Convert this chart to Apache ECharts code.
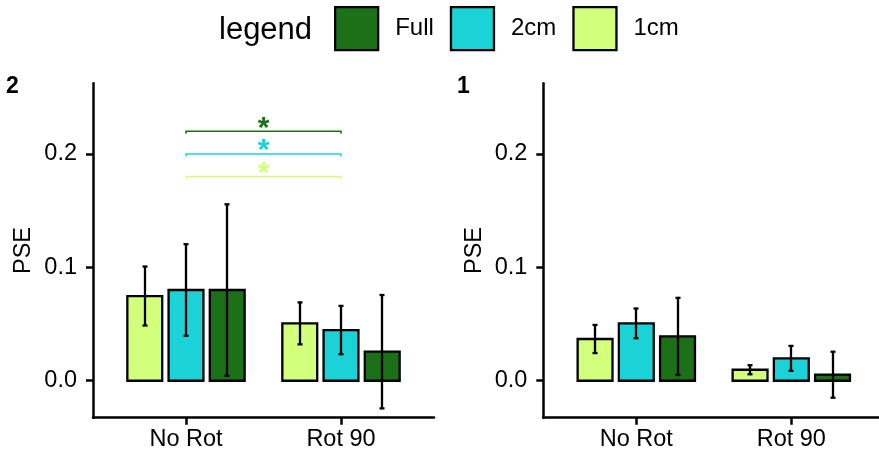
<!DOCTYPE html>
<html>
<head>
<meta charset="utf-8">
<script src="https://cdn.jsdelivr.net/npm/echarts@6/dist/echarts.min.js"></script>
<style>
  html, body { margin: 0; padding: 0; background: #fff; }
  #chart { width: 879px; height: 455px; }
</style>
</head>
<body>
<div id="chart"></div>
<script>
// Conditions on the x axis
const categories = ['No Rot', 'Rot 90'];
// Y axis ticks
const yTicks = [0, 0.1, 0.2];

// Panel "2": mean PSE and error per condition
const p2Mean1cm  = [0.0747, 0.0506];
const p2Err1cm   = [0.0260, 0.0185];
const p2Mean2cm  = [0.0800, 0.0447];
const p2Err2cm   = [0.0404, 0.0213];
const p2MeanFull = [0.0800, 0.0256];
const p2ErrFull  = [0.0756, 0.0500];

// Panel "1": mean PSE and error per condition
const p1Mean1cm  = [0.0368, 0.0097];
const p1Err1cm   = [0.0124, 0.0040];
const p1Mean2cm  = [0.0506, 0.0197];
const p1Err2cm   = [0.0131, 0.0110];
const p1MeanFull = [0.0391, 0.0053];
const p1ErrFull  = [0.0340, 0.0203];

// Significance brackets (No Rot vs Rot 90) in panel "2"
const sigGroups = ['1cm', '2cm', 'Full'];
const sigLevels = [0.18, 0.20, 0.22];
const sigLabels = ['*', '*', '*'];

const FONT = 'Liberation Sans, Arial, Helvetica, sans-serif';
const COLORS = { '1cm': '#D2FF7C', '2cm': '#1BD3D6', 'Full': '#1B7018' };
const OFFSETS = { '1cm': -0.266, '2cm': 0, 'Full': 0.266 };
const BAR_W = 0.225;
const CAP = 2.5;
const LW = 2.3;

const chart = echarts.init(document.getElementById('chart'));

function rows(means, errs) {
  return means.map((m, i) => [i + 1, m, errs[i]]);
}

// One bar with its error bar, dodged by group
function barItem(group) {
  const off = OFFSETS[group];
  const color = COLORS[group];
  return function (params, api) {
    const x = api.value(0) + off;
    const m = api.value(1);
    const e = api.value(2);
    const base = api.coord([x, 0]);
    const top = api.coord([x, m]);
    const hi = api.coord([x, m + e]);
    const lo = api.coord([x, m - e]);
    const w = api.size([BAR_W, 0])[0];
    const cx = Math.round(base[0]);
    const ink = { stroke: '#000', lineWidth: LW };
    return {
      type: 'group',
      children: [
        {
          type: 'rect',
          shape: { x: base[0] - w / 2, y: top[1], width: w, height: base[1] - top[1] },
          style: { fill: color, stroke: '#000', lineWidth: LW }
        },
        { type: 'line', shape: { x1: cx, y1: hi[1], x2: cx, y2: lo[1] }, style: ink },
        { type: 'line', shape: { x1: cx - CAP, y1: hi[1], x2: cx + CAP, y2: hi[1] }, style: ink },
        { type: 'line', shape: { x1: cx - CAP, y1: lo[1], x2: cx + CAP, y2: lo[1] }, style: ink }
      ]
    };
  };
}

function barSeries(group, idx, means, errs) {
  return {
    name: group,
    type: 'custom',
    xAxisIndex: idx,
    yAxisIndex: idx,
    renderItem: barItem(group),
    encode: { x: 0, y: 1 },
    itemStyle: { color: COLORS[group] },
    data: rows(means, errs),
    silent: true
  };
}

function xAxis(idx) {
  return {
    type: 'value',
    gridIndex: idx,
    min: 0.4,
    max: 2.6,
    axisLine: { show: true, onZero: false, lineStyle: { color: '#000', width: 2.5 } },
    axisTick: { show: true, customValues: [1, 2], length: 7, lineStyle: { color: '#000', width: 2.5 } },
    axisLabel: {
      customValues: [1, 2],
      formatter: v => categories[Math.round(v) - 1],
      color: '#000', fontSize: 23.5, fontFamily: FONT, margin: 10
    },
    splitLine: { show: false }
  };
}

function yAxis(idx) {
  return {
    type: 'value',
    gridIndex: idx,
    min: -0.0326,
    max: 0.2623,
    name: 'PSE',
    nameLocation: 'middle',
    nameGap: 57,
    nameRotate: 90,
    nameTextStyle: { color: '#000', fontSize: 23.5, fontFamily: FONT },
    axisLine: { show: true, onZero: false, lineStyle: { color: '#000', width: 2.5 } },
    axisTick: { show: true, customValues: yTicks, length: 7, lineStyle: { color: '#000', width: 2.5 } },
    axisLabel: {
      customValues: yTicks,
      formatter: v => v.toFixed(1),
      color: '#000', fontSize: 23.5, fontFamily: FONT, margin: 16
    },
    splitLine: { show: false }
  };
}

const sigSeries = {
  name: 'sig',
  type: 'custom',
  xAxisIndex: 0,
  yAxisIndex: 0,
  silent: true,
  data: sigLevels.map((y, i) => [1, 2, y, i]),
  encode: { x: [0, 1], y: 2 },
  renderItem: function (params, api) {
    const y = api.value(2);
    const i = api.value(3);
    const color = COLORS[sigGroups[i]];
    const a = api.coord([api.value(0), y]);
    const b = api.coord([api.value(1), y]);
    return {
      type: 'group',
      children: [
        {
          type: 'polyline',
          shape: { points: [[a[0], a[1] + 2.5], [a[0], a[1]], [b[0], b[1]], [b[0], b[1] + 2.5]] },
          style: { stroke: color, lineWidth: 1.5, fill: null }
        },
        {
          type: 'text',
          x: (a[0] + b[0]) / 2,
          y: a[1] - 3,
          style: {
            text: sigLabels[i], fill: color, font: 'bold 30px ' + FONT,
            align: 'center', verticalAlign: 'middle'
          }
        }
      ]
    };
  }
};

const option = {
  backgroundColor: '#fff',
  animation: false,
  grid: [
    { left: 93, top: 83.3, width: 341, height: 334.4, containLabel: false, outerBoundsMode: 'none' },
    { left: 543.3, top: 83.3, width: 341, height: 334.4, containLabel: false, outerBoundsMode: 'none' }
  ],
  xAxis: [xAxis(0), xAxis(1)],
  yAxis: [yAxis(0), yAxis(1)],
  legend: {
    left: 334,
    top: 6,
    padding: 0,
    icon: 'rect',
    itemWidth: 43,
    itemHeight: 43,
    itemGap: 16,
    selectedMode: false,
    textStyle: { color: '#000', fontSize: 24, fontFamily: FONT, padding: [0, 0, 0, 12] },
    data: ['Full', '2cm', '1cm'].map(g => ({
      name: g,
      itemStyle: { color: COLORS[g], borderColor: '#000', borderWidth: 2.3 }
    }))
  },
  graphic: [
    { type: 'text', left: 219, top: 15, style: { text: 'legend', font: '31px ' + FONT, fill: '#000' } },
    { type: 'text', left: 6, top: 75, style: { text: '2', font: 'bold 23px ' + FONT, fill: '#000' } },
    { type: 'text', left: 457, top: 75, style: { text: '1', font: 'bold 23px ' + FONT, fill: '#000' } }
  ],
  series: [
    barSeries('1cm', 0, p2Mean1cm, p2Err1cm),
    barSeries('2cm', 0, p2Mean2cm, p2Err2cm),
    barSeries('Full', 0, p2MeanFull, p2ErrFull),
    barSeries('1cm', 1, p1Mean1cm, p1Err1cm),
    barSeries('2cm', 1, p1Mean2cm, p1Err2cm),
    barSeries('Full', 1, p1MeanFull, p1ErrFull),
    sigSeries
  ]
};

chart.setOption(option);
</script>
</body>
</html>
